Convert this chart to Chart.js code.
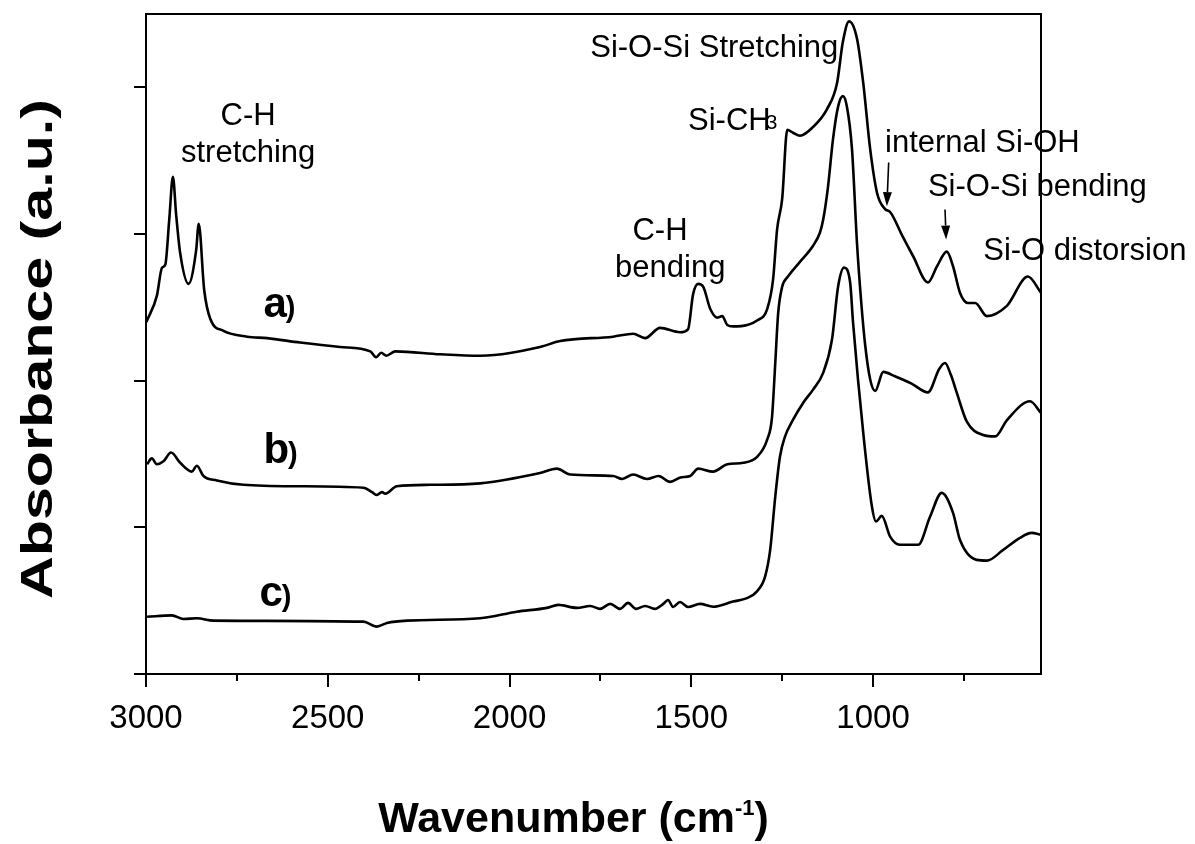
<!DOCTYPE html>
<html>
<head>
<meta charset="utf-8">
<title>FTIR spectra</title>
<script src="https://cdn.jsdelivr.net/npm/chart.js@4.4.1/dist/chart.umd.min.js"></script>
<style>
  html, body { margin: 0; padding: 0; background: #fff; }
  #wrap { width: 1195px; height: 844px; }
</style>
</head>
<body>
<div id="wrap"><canvas id="chart"></canvas></div>
<script>
// spectrum a) - wavenumber (cm-1) and absorbance (a.u., offset)
const waveA = [2999, 2970, 2956, 2947, 2936, 2926, 2917, 2906, 2883, 2862,
  2855, 2840, 2823, 2787, 2722, 2667, 2576, 2466, 2383, 2367,
  2353, 2339, 2314, 2191, 2081, 1916, 1861, 1715, 1660, 1627,
  1586, 1531, 1509, 1495, 1481, 1467, 1448, 1429, 1415, 1401,
  1385, 1346, 1319, 1291, 1275, 1264, 1250, 1236, 1220, 1201,
  1165, 1127, 1099, 1083, 1066, 1044, 1027, 1008, 989, 967,
  953, 918, 890, 849, 824, 797, 780, 761, 739, 719,
  687, 632, 574, 538];
const absA = [2.40, 2.58, 2.77, 2.79, 3.10, 3.39, 3.13, 2.87, 2.66, 2.89,
  3.07, 2.62, 2.42, 2.34, 2.30, 2.29, 2.26, 2.23, 2.20, 2.16,
  2.19, 2.17, 2.20, 2.18, 2.17, 2.23, 2.27, 2.30, 2.32, 2.29,
  2.36, 2.33, 2.35, 2.59, 2.66, 2.64, 2.49, 2.43, 2.44, 2.38,
  2.37, 2.38, 2.41, 2.49, 2.69, 3.03, 3.24, 3.71, 3.69, 3.67,
  3.73, 3.85, 4.03, 4.31, 4.45, 4.33, 4.03, 3.58, 3.28, 3.17,
  3.15, 2.98, 2.85, 2.67, 2.78, 2.88, 2.78, 2.60, 2.53, 2.53,
  2.44, 2.51, 2.71, 2.60];

// spectrum b)
const waveB = [2997, 2984, 2970, 2952, 2931, 2906, 2874, 2860, 2842, 2805,
  2732, 2585, 2402, 2378, 2365, 2351, 2342, 2310, 2218, 2081,
  1916, 1870, 1833, 1715, 1690, 1660, 1622, 1590, 1558, 1530,
  1503, 1481, 1440, 1401, 1357, 1319, 1291, 1278, 1269, 1261,
  1250, 1234, 1201, 1165, 1146, 1137, 1124, 1110, 1096, 1083,
  1072, 1058, 1044, 1033, 1022, 1008, 994, 972, 940, 894,
  849, 818, 802, 786, 770, 742, 697, 664, 632, 568, 538];
const absB = [1.43, 1.47, 1.43, 1.45, 1.51, 1.44, 1.38, 1.42, 1.35, 1.32,
  1.29, 1.28, 1.27, 1.24, 1.22, 1.24, 1.23, 1.28, 1.29, 1.30,
  1.37, 1.40, 1.36, 1.35, 1.33, 1.36, 1.33, 1.35, 1.31, 1.34,
  1.35, 1.40, 1.38, 1.43, 1.44, 1.48, 1.60, 1.75, 2.12, 2.46,
  2.64, 2.71, 2.81, 2.92, 3.01, 3.10, 3.32, 3.65, 3.87, 3.94,
  3.87, 3.58, 2.93, 2.55, 2.25, 2.01, 1.93, 2.06, 2.03, 1.98,
  1.92, 2.08, 2.12, 2.04, 1.92, 1.72, 1.63, 1.62, 1.73, 1.86, 1.78];

// spectrum c)
const waveC = [2997, 2929, 2897, 2860, 2815, 2402, 2365, 2337, 2282, 2081,
  1980, 1897, 1866, 1815, 1778, 1751, 1723, 1696, 1674, 1652,
  1627, 1600, 1577, 1564, 1550, 1531, 1509, 1476, 1440, 1385,
  1347, 1320, 1297, 1283, 1269, 1256, 1242, 1220, 1192, 1165,
  1137, 1113, 1096, 1080, 1063, 1055, 1027, 1003, 992, 976,
  953, 926, 876, 843, 811, 780, 761, 715, 687, 642,
  596, 564, 538];
const absC = [0.39, 0.40, 0.375, 0.38, 0.364, 0.357, 0.323, 0.348, 0.364, 0.38,
  0.425, 0.451, 0.471, 0.451, 0.464, 0.444, 0.478, 0.444, 0.485, 0.444,
  0.464, 0.444, 0.478, 0.505, 0.457, 0.491, 0.457, 0.478, 0.459, 0.494,
  0.517, 0.562, 0.664, 0.846, 1.21, 1.483, 1.62, 1.734, 1.85, 1.939,
  2.055, 2.28, 2.644, 2.771, 2.669, 2.396, 1.645, 1.14, 1.04, 1.078,
  0.937, 0.881, 0.881, 1.074, 1.235, 1.099, 0.915, 0.778, 0.773, 0.846,
  0.928, 0.962, 0.949];

const xMajorTicks = [3000, 2500, 2000, 1500, 1000];
const xMinorTicks = [2750, 2250, 1750, 1250, 750];
const yTicks = [0, 1, 2, 3, 4];

const FONT = '"Liberation Sans", Arial, Helvetica, sans-serif';
const yTitle = 'Absorbance (a.u.)';

// band assignments written on the plot (x in cm-1, y in absorbance units)
const bandNotes = [
  { text: 'C-H', w: 2719, v: 3.74, align: 'center' },
  { text: 'stretching', w: 2719, v: 3.488, align: 'center' },
  { text: 'C-H', w: 1586, v: 2.956, align: 'center' },
  { text: 'bending', w: 1558, v: 2.71, align: 'center' },
  { text: 'Si-O-Si Stretching', w: 1778, v: 4.205, align: 'left' },
  { text: 'Si-CH', sub: '3', w: 1509, v: 3.706, align: 'left' },
  { text: 'internal Si-OH', w: 967, v: 3.556, align: 'left' },
  { text: 'Si-O-Si bending', w: 849, v: 3.256, align: 'left' },
  { text: 'Si-O distorsion', w: 697, v: 2.826, align: 'left' }
];
const arrows = [
  { w1: 957, v1: 3.488, w2: 962, v2: 3.19 },
  { w1: 802, v1: 3.167, w2: 799, v2: 2.962 }
];
const traceTags = [
  { letter: 'a', w: 2677, v: 2.437 },
  { letter: 'b', w: 2677, v: 1.44 },
  { letter: 'c', w: 2688, v: 0.464 }
];

const toPoints = (ws, vs) => ws.map((w, i) => ({ x: w, y: vs[i] }));

const lineStyle = {
  borderColor: '#000',
  borderWidth: 2.6,
  pointRadius: 0,
  fill: false,
  cubicInterpolationMode: 'monotone'
};

const plotDecor = {
  id: 'plotDecor',
  afterDraw(chart) {
    const { ctx, chartArea: area, scales: { x, y } } = chart;
    ctx.save();
    ctx.strokeStyle = '#000';
    ctx.fillStyle = '#000';
    ctx.lineWidth = 2;

    // frame
    ctx.strokeRect(area.left, area.top, area.right - area.left, area.bottom - area.top);

    // short minor ticks on the wavenumber axis
    ctx.beginPath();
    xMinorTicks.forEach(v => {
      const px = Math.round(x.getPixelForValue(v));
      ctx.moveTo(px, area.bottom);
      ctx.lineTo(px, area.bottom + 7);
    });
    ctx.stroke();

    // band labels
    ctx.textBaseline = 'alphabetic';
    ctx.font = '31px ' + FONT;
    bandNotes.forEach(n => {
      const px = x.getPixelForValue(n.w);
      const py = y.getPixelForValue(n.v);
      ctx.textAlign = n.align;
      ctx.fillText(n.text, px, py);
      if (n.sub) {
        const wText = ctx.measureText(n.text).width;
        ctx.save();
        ctx.font = '21px ' + FONT;
        ctx.textAlign = 'left';
        ctx.fillText(n.sub, px + wText - 5, py - 1);
        ctx.restore();
      }
    });

    // arrows
    arrows.forEach(a => {
      const x1 = x.getPixelForValue(a.w1), y1 = y.getPixelForValue(a.v1);
      const x2 = x.getPixelForValue(a.w2), y2 = y.getPixelForValue(a.v2);
      const ang = Math.atan2(y2 - y1, x2 - x1);
      const head = 14, half = 4.5;
      ctx.lineWidth = 1.6;
      ctx.beginPath();
      ctx.moveTo(x1, y1);
      ctx.lineTo(x2 - head * Math.cos(ang), y2 - head * Math.sin(ang));
      ctx.stroke();
      ctx.beginPath();
      ctx.moveTo(x2, y2);
      ctx.lineTo(x2 - head * Math.cos(ang) - half * Math.sin(ang), y2 - head * Math.sin(ang) + half * Math.cos(ang));
      ctx.lineTo(x2 - head * Math.cos(ang) + half * Math.sin(ang), y2 - head * Math.sin(ang) - half * Math.cos(ang));
      ctx.closePath();
      ctx.fill();
    });

    // trace tags a) b) c)
    ctx.textAlign = 'left';
    traceTags.forEach(t => {
      const px = x.getPixelForValue(t.w);
      const py = y.getPixelForValue(t.v);
      ctx.font = 'bold 42px ' + FONT;
      ctx.fillText(t.letter, px, py);
      const lw = ctx.measureText(t.letter).width;
      ctx.font = 'bold 29px ' + FONT;
      ctx.fillText(')', px + lw - 1, py);
    });

    // y title, drawn a little stretched along its length
    ctx.save();
    ctx.translate(40, (area.top + area.bottom) / 2 + 5);
    ctx.rotate(-Math.PI / 2);
    ctx.font = 'bold 45px ' + FONT;
    const tw = ctx.measureText(yTitle).width;
    ctx.scale(500 / tw, 1);
    ctx.textAlign = 'center';
    ctx.textBaseline = 'middle';
    ctx.fillText(yTitle, 0, 0);
    ctx.restore();

    // x title with superscript
    ctx.textAlign = 'left';
    ctx.textBaseline = 'alphabetic';
    const cx = (area.left + area.right) / 2 - 20;
    const base = chart.height - 12;
    const main = 'Wavenumber (cm';
    ctx.font = 'bold 43px ' + FONT;
    const w1 = ctx.measureText(main).width;
    const w3 = ctx.measureText(')').width;
    ctx.font = 'bold 22px ' + FONT;
    const w2 = ctx.measureText('-1').width;
    let sx = cx - (w1 + w2 + w3) / 2;
    ctx.font = 'bold 43px ' + FONT;
    ctx.fillText(main, sx, base);
    sx += w1;
    ctx.font = 'bold 22px ' + FONT;
    ctx.fillText('-1', sx, base - 17);
    sx += w2;
    ctx.font = 'bold 43px ' + FONT;
    ctx.fillText(')', sx, base);

    ctx.restore();
  }
};

new Chart(document.getElementById('chart'), {
  type: 'line',
  data: {
    datasets: [
      { label: 'a', data: toPoints(waveA, absA), ...lineStyle },
      { label: 'b', data: toPoints(waveB, absB), ...lineStyle },
      { label: 'c', data: toPoints(waveC, absC), ...lineStyle }
    ]
  },
  options: {
    responsive: true,
    maintainAspectRatio: false,
    animation: false,
    layout: { padding: { top: 14, right: 154, left: 0, bottom: 0 } },
    plugins: { legend: { display: false }, tooltip: { enabled: false } },
    scales: {
      x: {
        type: 'linear',
        reverse: true,
        min: 538,
        max: 3000,
        afterFit: s => { s.height = 170; },
        afterBuildTicks: s => { s.ticks = xMajorTicks.map(v => ({ value: v })); },
        border: { display: false },
        grid: { drawOnChartArea: false, drawTicks: true, tickLength: 13, lineWidth: 2, color: '#000' },
        ticks: {
          color: '#000',
          font: { family: FONT, size: 33 },
          padding: 12,
          maxRotation: 0,
          autoSkip: false,
          callback: v => String(v)
        },
        title: { display: false }
      },
      y: {
        min: 0,
        max: 4.5,
        afterFit: s => { s.width = 146; },
        afterBuildTicks: s => { s.ticks = yTicks.map(v => ({ value: v })); },
        border: { display: false },
        grid: { drawOnChartArea: false, drawTicks: true, tickLength: 12, lineWidth: 2, color: '#000' },
        ticks: { display: false },
        title: { display: false }
      }
    }
  },
  plugins: [plotDecor]
});
</script>
</body>
</html>
